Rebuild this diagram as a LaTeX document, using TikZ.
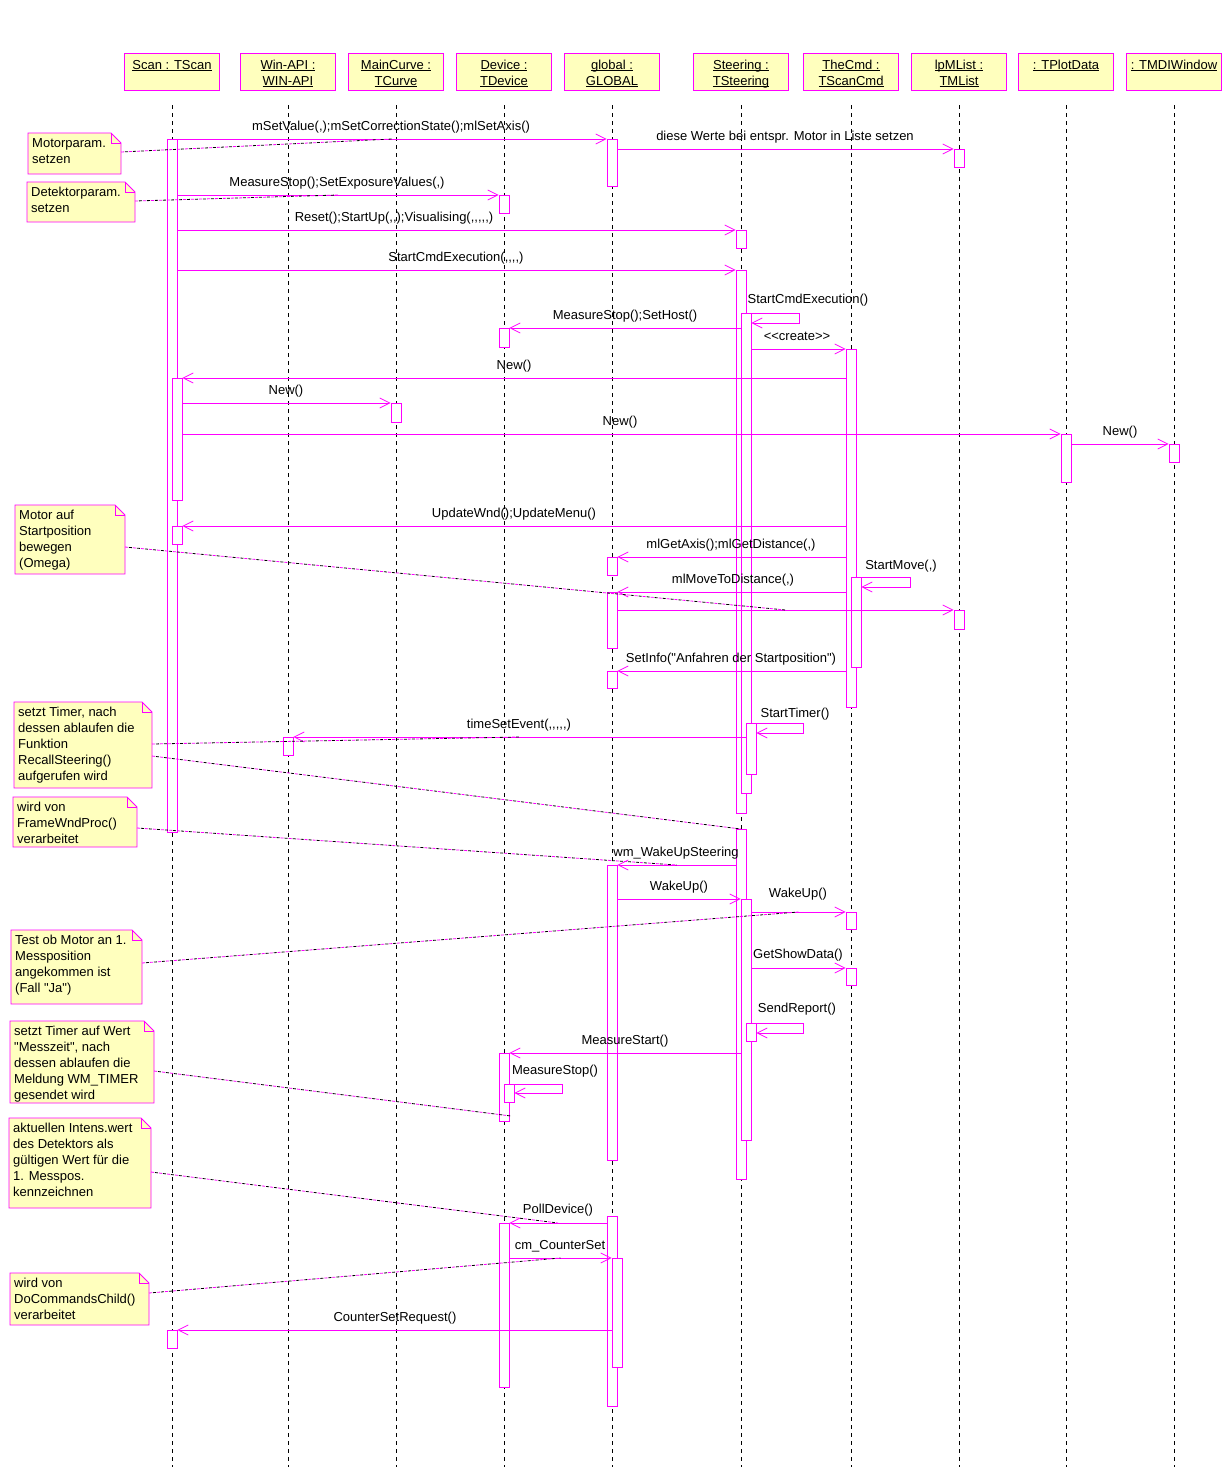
\documentclass[tikz,border=0pt]{standalone}
\usepackage{fontspec}
\newfontfamily\labfont{Liberation Sans}
\usetikzlibrary{arrows.meta,calc}
\definecolor{mag}{RGB}{255,0,255}
\definecolor{noteyel}{RGB}{255,255,190}
\newcommand\hul[1]{\setbox0=\hbox{#1}\rlap{\rule[-2pt]{\wd0}{0.8pt}}\box0}
\newcommand\act[4]{\node[actbar, minimum height={#4-#3}] (#1) at (#2,#3) {};}
\newcommand\notebox[6]{%
  \path[notebody] (#2,#3) -- ({#4-10},#3) -- (#4,{#3+10}) -- (#4,#5) -- (#2,#5) -- cycle;
  \draw[notefold] ({#4-10},#3) -- ({#4-10},{#3+10}) -- (#4,{#3+10});
  \node[notetext] (#1) at ({#2+4},{#3+2.8}) {\strut #6};}
\newcommand\head[3]{%
  \node[headbox] (h#1) at (#2,53) {};
  \node[headtext] (x#1) at (#2,57.8) {\strut #3};
  \draw[lifeline] (h#1.south |- 0,105) -- (h#1.south |- 0,1467);}
\begin{document}
\begin{tikzpicture}[x=1pt,y=-1pt,
  every node/.style={font=\labfont\fontsize{13}{16}\selectfont, inner sep=0pt},
  lifeline/.style={draw=black, line width=0.8pt, dash pattern=on 4pt off 4pt},
  actbar/.style={rectangle, draw=mag, fill=white, line width=0.8pt, minimum width=10pt, anchor=north},
  msg/.style={draw=mag, line width=0.8pt, -{Straight Barb[length=10pt,width=10pt]}},
  lbl/.style={anchor=base},
  headbox/.style={rectangle, draw=mag, fill=noteyel, line width=0.8pt, minimum width=95pt, minimum height=37pt, anchor=north},
  headtext/.style={anchor=north, align=center},
  notebody/.style={draw=mag, fill=noteyel, line width=0.8pt},
  notefold/.style={draw=mag, line width=0.8pt},
  notetext/.style={anchor=north west, align=left},
  notelink/.style={draw=mag, line width=0.8pt, dash pattern=on 3pt off 5pt,
     postaction={draw=black, line width=0.8pt, dash pattern=on 3pt off 5pt, dash phase=4pt}},
]
\useasboundingbox (0,0) rectangle (1222,1467);
\fill[white] (0,0) rectangle (1222,1467);

% ---------- heads and lifelines ----------
\head{Scan}{172}{\hul{Scan : TScan}}
\head{Win}{288}{\hul{Win-API :}\\\hul{WIN-API}}
\head{Main}{396}{\hul{MainCurve :}\\\hul{TCurve}}
\head{Dev}{504}{\hul{Device :}\\\hul{TDevice}}
\head{Glob}{612}{\hul{global :}\\\hul{GLOBAL}}
\head{Steer}{741}{\hul{Steering :}\\\hul{TSteering}}
\head{Cmd}{851}{\hul{TheCmd :}\\\hul{TScanCmd}}
\head{List}{959}{\hul{lpMList :}\\\hul{TMList}}
\head{Plot}{1066}{\hul{: TPlotData}}
\head{MDI}{1174}{\hul{: TMDIWindow}}

% ---------- activation bars ----------
\act{s1}{172}{139}{832}
\act{s2}{177}{378}{500}
\act{s3}{177}{526}{544}
\act{s4}{172}{1330}{1348}
\act{w1}{288}{737}{755}
\act{m1}{396}{403}{422}
\act{d1}{504}{195}{213}
\act{d2}{504}{328}{347}
\act{d3}{504}{1053}{1121}
\act{d4}{509}{1084}{1102}
\act{d5}{504}{1223}{1387}
\act{g1}{612}{139}{186}
\act{g2}{612}{557}{575}
\act{g3}{612}{592}{648}
\act{g4}{612}{671}{688}
\act{g5}{612}{865}{1160}
\act{g6}{612}{1216}{1406}
\act{g7}{617}{1258}{1367}
\act{t1}{741}{230}{248}
\act{t2}{741}{270}{813}
\act{t3}{746}{313}{793}
\act{t4}{751}{723}{774}
\act{t5}{741}{829}{1179}
\act{t6}{746}{899}{1140}
\act{t7}{751}{1023}{1041}
\act{c1}{851}{349}{707}
\act{c2}{856}{577}{667}
\act{c3}{851}{912}{929}
\act{c4}{851}{968}{985}
\act{l1}{959}{149}{167}
\act{l2}{959}{610}{629}
\act{p1}{1066}{434}{482}
\act{i1}{1174}{444}{462}

% ---------- messages ----------
\draw[msg] (s1.east |- g1.north) -- (g1.north west);
\node[lbl] (L1) at (391,130) {mSetValue(,);mSetCorrectionState();mlSetAxis()};
\draw[msg] (g1.east |- l1.north) -- (l1.north west);
\node[lbl] (L2) at (785,140) {diese Werte bei entspr. Motor in Liste setzen};
\draw[msg] (s1.east |- d1.north) -- (d1.north west);
\node[lbl] (L3) at (337,186) {MeasureStop();SetExposureValues(,)};
\draw[msg] (s1.east |- t1.north) -- (t1.north west);
\node[lbl] (L4) at (394,221) {Reset();StartUp(,,);Visualising(,,,,,)};
\draw[msg] (s1.east |- t2.north) -- (t2.north west);
\node[lbl] (L5) at (456,261) {StartCmdExecution(,,,,)};
\draw[msg] (t3.north east) -- ++(48,0) -- ++(0,10) -- ($(t3.north east)+(0,10)$);
\node[lbl] (L6) at (808,303) {StartCmdExecution()};
\draw[msg] (t3.west |- d2.north) -- (d2.north east);
\node[lbl] (L7) at (625,319) {MeasureStop();SetHost()};
\draw[msg] (t3.east |- c1.north) -- (c1.north west);
\node[lbl] (L8) at (797,340) {<<create>>};
\draw[msg] (c1.west |- s2.north) -- (s2.north east);
\node[lbl] (L9) at (514,369) {New()};
\draw[msg] (s2.east |- m1.north) -- (m1.north west);
\node[lbl] (L10) at (286,394) {New()};
\draw[msg] (s2.east |- p1.north) -- (p1.north west);
\node[lbl] (L11) at (620,425) {New()};
\draw[msg] (p1.east |- i1.north) -- (i1.north west);
\node[lbl] (L12) at (1120,435) {New()};
\draw[msg] (c1.west |- s3.north) -- (s3.north east);
\node[lbl] (L13) at (514,517) {UpdateWnd();UpdateMenu()};
\draw[msg] (c1.west |- g2.north) -- (g2.north east);
\node[lbl] (L14) at (731,548) {mlGetAxis();mlGetDistance(,)};
\draw[msg] (c1.east |- c2.north) -- ++(54,0) -- ++(0,10) -- ($(c2.north east)+(0,10)$);
\node[lbl] (L15) at (901,569) {StartMove(,)};
\draw[msg] (c1.west |- g3.north) -- (g3.north east);
\node[lbl] (L16) at (733,583) {mlMoveToDistance(,)};
\draw[msg] (g3.east |- l2.north) -- (l2.north west);
\draw[msg] (c1.west |- g4.north) -- (g4.north east);
\node[lbl] (L18) at (731,662) {SetInfo("Anfahren der Startposition")};
\draw[msg] (t3.east |- t4.north) -- ++(52,0) -- ++(0,10) -- ($(t4.north east)+(0,10)$);
\node[lbl] (L19) at (795,717) {StartTimer()};
\draw[msg] (t4.west |- w1.north) -- (w1.north east);
\node[lbl] (L20) at (519,728) {timeSetEvent(,,,,,)};
\draw[msg] (t5.west |- g5.north) -- (g5.north east);
\node[lbl] (L21) at (676,856) {wm\_WakeUpSteering};
\draw[msg] (g5.east |- t6.north) -- (t6.north west);
\node[lbl] (L22) at (679,890) {WakeUp()};
\draw[msg] (t6.east |- c3.north) -- (c3.north west);
\node[lbl] (L23) at (798,897) {WakeUp()};
\draw[msg] (t6.east |- c4.north) -- (c4.north west);
\node[lbl] (L24) at (798,958) {GetShowData()};
\draw[msg] (t6.east |- t7.north) -- ++(52,0) -- ++(0,10) -- ($(t7.north east)+(0,10)$);
\node[lbl] (L25) at (797,1012) {SendReport()};
\draw[msg] (t6.west |- d3.north) -- (d3.north east);
\node[lbl] (L26) at (625,1044) {MeasureStart()};
\draw[msg] (d3.east |- d4.north) -- ++(53,0) -- ++(0,9) -- ($(d4.north east)+(0,9)$);
\node[lbl] (L27) at (555,1074) {MeasureStop()};
\draw[msg] (g6.west |- d5.north) -- (d5.north east);
\node[lbl] (L28) at (558,1213) {PollDevice()};
\draw[msg] (d5.east |- g7.north) -- (g7.north west);
\node[lbl] (L29) at (560,1249) {cm\_CounterSet};
\draw[msg] (g7.west |- s4.north) -- (s4.north east);
\node[lbl] (L30) at (395,1321) {CounterSetRequest()};

% ---------- notes ----------
\notebox{n1}{28}{133}{121}{174}{Motorparam.\\setzen}
\notebox{n2}{27}{182}{135}{222}{Detektorparam.\\setzen}
\notebox{n3}{15}{505}{125}{574}{Motor auf\\Startposition\\bewegen\\(Omega)}
\notebox{n4}{14}{702}{152}{788}{setzt Timer, nach\\dessen ablaufen die\\Funktion\\RecallSteering()\\aufgerufen wird}
\notebox{n5}{13}{797}{137}{847}{wird von\\FrameWndProc()\\verarbeitet}
\notebox{n6}{11}{930}{142}{1004}{Test ob Motor an 1.\\Messposition\\angekommen ist\\(Fall "Ja")}
\notebox{n7}{10}{1021}{154}{1103}{setzt Timer auf Wert\\"Messzeit", nach\\dessen ablaufen die\\Meldung WM\_TIMER\\gesendet wird}
\notebox{n8}{9}{1118}{151}{1208}{aktuellen Intens.wert\\des Detektors als\\gültigen Wert für die\\1. Messpos.\\kennzeichnen}
\notebox{n9}{10}{1273}{149}{1325}{wird von\\DoCommandsChild()\\verarbeitet}

% ---------- note links ----------
\coordinate (k1) at ($(s1.east |- g1.north)!0.5!(g1.north west)$);
\coordinate (k3) at ($(s1.east |- d1.north)!0.5!(d1.north west)$);
\coordinate (k17) at ($(g3.east |- l2.north)!0.5!(l2.north west)$);
\coordinate (k20) at ($(t4.west |- w1.north)!0.5!(w1.north east)$);
\coordinate (k21) at ($(t5.west |- g5.north)!0.5!(g5.north east)$);
\coordinate (k23) at ($(t6.east |- c3.north)!0.5!(c3.north west)$);
\coordinate (k27) at (511,1116);
\coordinate (k28) at ($(g6.west |- d5.north)!0.5!(d5.north east)$);
\coordinate (k29) at ($(d5.east |- g7.north)!0.5!(g7.north west)$);
\coordinate (a1) at (121,152);
\coordinate (a2) at (135,201);
\coordinate (a3) at (125,547);
\coordinate (a4) at (152,744);
\coordinate (a4b) at (152,756);
\coordinate (a5) at (137,828);
\coordinate (a6) at (142,963);
\coordinate (a7) at (154,1071);
\coordinate (a8) at (151,1172);
\coordinate (a9) at (149,1293);
\draw[notelink] (a1) -- (k1);
\draw[notelink] (a2) -- (k3);
\draw[notelink] (a3) -- (k17);
\draw[notelink] (a4) -- (k20);
\draw[notelink] (a4b) -- (t5.north);
\draw[notelink] (a5) -- (k21);
\draw[notelink] (a6) -- (k23);
\draw[notelink] (a7) -- (k27);
\draw[notelink] (a8) -- (k28);
\draw[notelink] (a9) -- (k29);
\end{tikzpicture}
\end{document}
